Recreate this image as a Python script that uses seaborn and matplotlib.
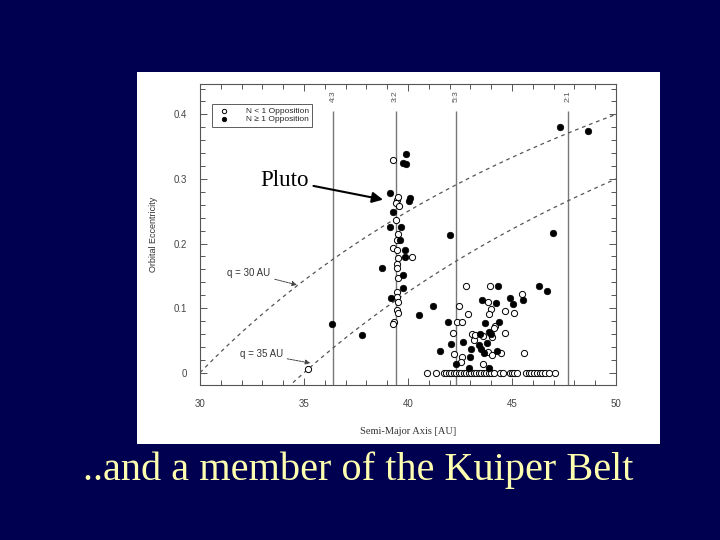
import numpy as np
import matplotlib
matplotlib.use("Agg")
import matplotlib.pyplot as plt
import matplotlib.ticker as mticker
from matplotlib.patches import Rectangle
import seaborn as sns

## Kuiper belt objects: semi-major axis [AU] and eccentricity
# N >= 1 opposition (filled)
a_multi = [47.29, 48.65, 39.90, 39.76, 39.92, 40.08, 40.03, 39.13, 39.26, 39.13,
           39.64, 39.60, 42.03, 46.96, 39.86, 39.86, 38.73, 39.76, 39.78, 39.20,
           40.54, 36.35, 37.79, 41.20, 41.90, 42.07, 41.55, 42.32, 42.64, 43.03,
           43.00, 42.95, 43.39, 43.50, 43.55, 43.48, 43.68, 43.80, 43.67, 44.33,
           44.23, 44.36, 43.90, 44.00, 44.28, 43.90, 44.92, 45.05, 45.55, 46.32,
           46.68]
e_multi = [0.381, 0.374, 0.339, 0.325, 0.323, 0.271, 0.266, 0.279, 0.249, 0.226,
           0.226, 0.205, 0.214, 0.216, 0.190, 0.179, 0.162, 0.151, 0.131, 0.115,
           0.089, 0.076, 0.058, 0.103, 0.079, 0.044, 0.034, 0.013, 0.048, 0.036,
           0.025, 0.007, 0.043, 0.036, 0.113, 0.060, 0.077, 0.046, 0.031, 0.134,
           0.108, 0.078, 0.063, 0.060, 0.033, 0.007, 0.116, 0.107, 0.112, 0.134,
           0.126]

# N < 1 opposition (open)
a_single = [39.29, 39.45, 39.40, 39.55, 39.50, 39.40, 39.50, 39.45, 39.29, 39.45,
            39.53, 40.17, 39.48, 39.48, 39.53, 39.48, 39.45, 39.53, 39.48, 39.53,
            39.33, 39.29, 35.20, 42.47, 42.88, 42.36, 42.60, 42.15, 42.23, 42.60,
            42.56, 43.10, 43.15, 43.22, 43.60, 43.60, 43.92, 43.85, 44.00, 43.88,
            44.20, 44.12, 44.06, 43.85, 44.04, 44.47, 44.68, 44.65, 45.11, 45.50,
            45.60, 42.80,
            40.91, 41.35, 41.71, 41.83, 41.95, 42.07, 42.20, 42.32, 42.44, 42.56,
            42.68, 42.80, 42.92, 43.03, 43.16, 43.28, 43.40, 43.51, 43.64, 43.75,
            43.88, 44.00, 44.12, 44.44, 44.55, 44.89, 45.00, 45.11, 45.24, 45.67,
            45.80, 45.93, 46.04, 46.20, 46.33, 46.44, 46.60, 46.76, 47.08]
e_single = [0.329, 0.267, 0.262, 0.258, 0.272, 0.236, 0.215, 0.205, 0.193, 0.190,
            0.177, 0.179, 0.169, 0.162, 0.147, 0.125, 0.118, 0.110, 0.097, 0.093,
            0.079, 0.076, 0.005, 0.103, 0.091, 0.079, 0.078, 0.061, 0.029, 0.024,
            0.017, 0.060, 0.051, 0.058, 0.057, 0.014, 0.135, 0.109, 0.098, 0.091,
            0.072, 0.069, 0.055, 0.032, 0.028, 0.030, 0.095, 0.061, 0.093, 0.122,
            0.030, 0.135,
            0.0, 0.0, 0.0, 0.0, 0.0, 0.0, 0.0, 0.0, 0.0, 0.0,
            0.0, 0.0, 0.0, 0.0, 0.0, 0.0, 0.0, 0.0, 0.0, 0.0,
            0.0, 0.0, 0.0, 0.0, 0.0, 0.0, 0.0, 0.0, 0.0, 0.0,
            0.0, 0.0, 0.0, 0.0, 0.0, 0.0, 0.0, 0.0, 0.0]

# mean motion resonances with Neptune
res_a = [36.4, 39.4, 42.3, 47.7]
res_names = ["4:3", "3:2", "5:3", "2:1"]

# perihelion distance curves q = a(1-e)
q_values = [30, 35]

navy = "#000050"

sns.set_style("ticks")
plt.rcParams["font.family"] = ["Liberation Sans", "DejaVu Sans"]

fig = plt.figure(figsize=(7.2, 5.4), dpi=100, facecolor=navy)
# white picture pasted on the slide
fig.add_artist(Rectangle((137 / 720, 96 / 540), 523 / 720, 372 / 540,
                         transform=fig.transFigure, facecolor="white",
                         edgecolor="none", zorder=0))

ax = fig.add_axes([200 / 720, 155 / 540, 416 / 720, 301 / 540])
ax.set_facecolor("white")

# q curves
a_grid = np.linspace(30, 50, 200)
for q in q_values:
    sns.lineplot(x=a_grid, y=1 - q / a_grid, ax=ax, color="#555555",
                 lw=0.9, linestyle=(0, (3, 3)), sort=False)

# resonance lines
ax.vlines(res_a, -0.03, 0.405, color="#777777", lw=1.0, zorder=1)
for a, name in zip(res_a, res_names):
    ax.text(a, 0.428, name, rotation=90, ha="center", va="center",
            fontsize=6, color="#555555")

sns.scatterplot(x=a_single, y=e_single, ax=ax, marker="o", s=20,
                facecolor="white", edgecolor="black", linewidth=0.7,
                label="N < 1 Opposition", zorder=3)
sns.scatterplot(x=a_multi, y=e_multi, ax=ax, marker="o", s=22,
                color="black", edgecolor="black", linewidth=0.5,
                label="N \u2265 1 Opposition", zorder=4)

ax.set_xlim(30, 50)
ax.set_ylim(-0.019, 0.447)

ax.xaxis.set_major_locator(mticker.MultipleLocator(5))
ax.xaxis.set_minor_locator(mticker.MultipleLocator(1))
ax.yaxis.set_major_locator(mticker.FixedLocator([0, 0.1, 0.2, 0.3, 0.4]))
ax.yaxis.set_minor_locator(mticker.MultipleLocator(0.02))
ax.yaxis.set_major_formatter(
    mticker.FuncFormatter(lambda v, p: "0" if abs(v) < 1e-9 else f"{v:.1f}"))

ax.tick_params(which="both", direction="in", top=True, right=True,
               color="#555555", labelcolor="#444444", labelsize=7, width=0.7)
ax.tick_params(which="major", length=5)
ax.tick_params(which="minor", length=3.5)
ax.tick_params(axis="x", pad=10)
ax.tick_params(axis="y", pad=9)
for sp in ax.spines.values():
    sp.set_color("#555555")
    sp.set_linewidth(0.8)

ax.set_xlabel("Semi-Major Axis [AU]", fontsize=7.5, family="Liberation Serif",
              color="#333333")
ax.xaxis.set_label_coords(0.5, -0.14)
ax.set_ylabel("Orbital Eccentricity", fontsize=6.5, color="#333333")
ax.yaxis.set_label_coords(-0.1, 0.5)

leg = ax.legend(loc="upper left", bbox_to_anchor=(0.03, 0.935), fontsize=6,
                frameon=True, fancybox=False, edgecolor="#333333",
                borderpad=0.4, handletextpad=1.6, labelspacing=0.1,
                borderaxespad=0, markerscale=0.7)
leg.get_frame().set_linewidth(0.7)

# annotations
ax.annotate("Pluto", xy=(38.8, 0.268), xytext=(32.9, 0.298),
            fontsize=16.5, family="Liberation Serif", color="black",
            ha="left", va="center",
            arrowprops=dict(arrowstyle="-|>", color="black", lw=1.5,
                            mutation_scale=16, shrinkA=1, shrinkB=0))
ax.annotate("q = 30 AU", xy=(34.66, 0.136), xytext=(31.3, 0.155),
            fontsize=7, color="#333333", ha="left", va="center",
            arrowprops=dict(arrowstyle="-|>", color="#444444", lw=0.7,
                            linestyle=(0, (2, 1)), mutation_scale=7,
                            shrinkA=1, shrinkB=0))
ax.annotate("q = 35 AU", xy=(35.3, 0.015), xytext=(31.9, 0.029),
            fontsize=7, color="#333333", ha="left", va="center",
            arrowprops=dict(arrowstyle="-|>", color="#444444", lw=0.7,
                            linestyle=(0, (2, 1)), mutation_scale=7,
                            shrinkA=1, shrinkB=0))

fig.text(358 / 720, 1 - 470 / 540, "..and a member of the Kuiper Belt",
         ha="center", va="center", fontsize=29, family="Liberation Serif",
         color="#FFFFB0")

fig.savefig("out.png", dpi=100, facecolor=fig.get_facecolor())
